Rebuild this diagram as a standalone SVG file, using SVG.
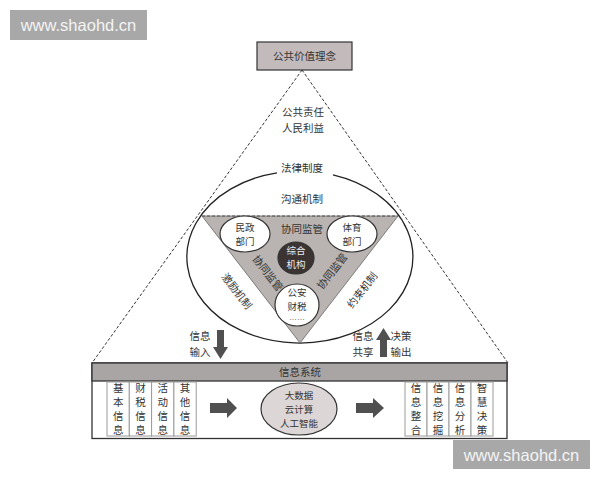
<svg xmlns="http://www.w3.org/2000/svg" width="600" height="480" viewBox="0 0 600 480">
<style>
.t{font-family:"Noto Sans CJK SC","Noto Sans",sans-serif;font-size:10.5px;fill:#333;text-anchor:middle;}
.s{font-family:"Noto Sans CJK SC","Noto Sans",sans-serif;font-size:9.5px;fill:#333;text-anchor:middle;}
.tw{font-family:"Noto Sans CJK SC","Noto Sans",sans-serif;font-size:9.5px;fill:#eee;text-anchor:middle;}
.v{font-family:"Noto Sans CJK SC","Noto Sans",sans-serif;font-size:10.5px;fill:#333;text-anchor:middle;writing-mode:vertical-rl;letter-spacing:3.5px;}
.wm{font-family:"Liberation Sans",Arial,sans-serif;font-size:16.5px;fill:#f4f4f4;text-anchor:middle;}
.dash{stroke:#333;stroke-width:1;stroke-dasharray:3,2;fill:none;}
.node{stroke:#333;stroke-width:1.2;}
.col{fill:#fff;stroke:#999;stroke-width:1;}
.dk{fill:#505050;}
</style>
<rect width="600" height="480" fill="#fff"/>

<g id="watermark1">
<rect x="10" y="10" width="137" height="30" fill="#a8a8a8"/>
<text class="wm" x="78.5" y="31">www.shaohd.cn</text>
</g>

<g id="connectors">
<line class="dash" x1="302" y1="70" x2="92" y2="363"/>
<line class="dash" x1="302" y1="70" x2="508" y2="363"/>
<line x1="296" y1="258" x2="248" y2="236" stroke="#555" stroke-width="3"/>
<line x1="296" y1="258" x2="350" y2="236" stroke="#555" stroke-width="3"/>
<line x1="296" y1="258" x2="297" y2="300" stroke="#555" stroke-width="3"/>
</g>

<g id="top-box">
<rect class="node" x="257" y="42" width="95" height="28" fill="#c3bbbb"/>
<text class="t" x="304.5" y="60">公共价值理念</text>
</g>

<g id="values">
<text class="t" x="303" y="116">公共责任</text>
<text class="t" x="303" y="132">人民利益</text>
</g>

<g id="law-ellipse">
<path d="M 277 172.8 A 113 86 0 1 0 333 174.8" fill="none" stroke="#222" stroke-width="1.3"/>
<text class="t" x="302" y="172">法律制度</text>
<text class="t" x="302" y="203">沟通机制</text>
<text class="t" transform="translate(237,291) rotate(52)" y="4">激励机制</text>
<text class="t" transform="translate(362,290) rotate(-52)" y="4">约束机制</text>
</g>

<g id="gray-triangle">
<polygon points="202,216 398,216 300,343" fill="#b9b4b1" stroke="#666" stroke-width="0.8"/>
<line x1="202" y1="216" x2="398" y2="216" stroke="#555" stroke-width="1" stroke-dasharray="3,2"/>
<text class="t" x="302" y="233">协同监管</text>
<text class="t" transform="translate(268,273) rotate(52)" y="4">协同监管</text>
<text class="t" transform="translate(332,271) rotate(-52)" y="4">协同监管</text>
</g>

<g id="minzheng">
<ellipse class="node" cx="245" cy="234" rx="25" ry="18" fill="#fff"/>
<text class="s" x="245" y="231">民政</text>
<text class="s" x="245" y="245">部门</text>
</g>

<g id="tiyu">
<ellipse class="node" cx="352" cy="234" rx="25" ry="18" fill="#fff"/>
<text class="s" x="352" y="231">体育</text>
<text class="s" x="352" y="245">部门</text>
</g>

<g id="zonghe">
<ellipse class="node" cx="296" cy="258" rx="18" ry="16" fill="#3b3433"/>
<text class="tw" x="296" y="254">综合</text>
<text class="tw" x="296" y="268">机构</text>
</g>

<g id="gongan">
<ellipse class="node" cx="297" cy="305" rx="22" ry="21" fill="#fff"/>
<text class="s" x="297" y="296">公安</text>
<text class="s" x="297" y="310">财税</text>
<text x="297" y="320" style="font-family:'Liberation Sans',sans-serif;font-size:8px;fill:#333;text-anchor:middle;">……</text>
</g>

<g id="arrow-in">
<text class="t" x="200" y="340">信息</text>
<text class="t" x="200" y="356">输入</text>
<rect class="dk" x="217" y="330" width="7" height="18"/>
<polygon class="dk" points="213,347 228,347 220.5,359"/>
</g>

<g id="arrow-out">
<text class="t" x="363" y="340">信息</text>
<text class="t" x="363" y="356">共享</text>
<rect class="dk" x="380" y="339" width="7" height="18"/>
<polygon class="dk" points="376,340 391,340 383.5,328"/>
<text class="t" x="401" y="340">决策</text>
<text class="t" x="401" y="356">输出</text>
</g>

<g id="info-system">
<rect x="92" y="363" width="415" height="75.5" fill="#fff" stroke="#333" stroke-width="1.3"/>
<rect x="92" y="363" width="415" height="18" fill="#aaa5a5" stroke="#333" stroke-width="1.3"/>
<text class="t" x="300" y="376">信息系统</text>
</g>

<g id="inputs">
<rect class="col" x="107" y="382" width="22.3" height="54"/>
<rect class="col" x="129.3" y="382" width="22.3" height="54"/>
<rect class="col" x="151.6" y="382" width="22.3" height="54"/>
<rect class="col" x="173.9" y="382" width="22.3" height="54"/>
<text class="v" x="118.2" y="411">基本信息</text>
<text class="v" x="140.5" y="411">财税信息</text>
<text class="v" x="162.8" y="411">活动信息</text>
<text class="v" x="185" y="411">其他信息</text>
</g>

<g id="arrow-a">
<polygon class="dk" points="210,403 227,403 227,398 237,408 227,418 227,413 210,413"/>
</g>

<g id="tech">
<ellipse class="node" cx="299" cy="409" rx="38" ry="26" fill="#ddd6d6"/>
<text class="s" x="299" y="399">大数据</text>
<text class="s" x="299" y="413">云计算</text>
<text class="s" x="299" y="427">人工智能</text>
</g>

<g id="arrow-b">
<polygon class="dk" points="356,403 373,403 373,398 384,408 373,418 373,413 356,413"/>
</g>

<g id="outputs">
<rect class="col" x="405" y="382" width="22" height="54"/>
<rect class="col" x="427" y="382" width="22" height="54"/>
<rect class="col" x="449" y="382" width="22" height="54"/>
<rect class="col" x="471" y="382" width="22" height="54"/>
<text class="v" x="416" y="411">信息整合</text>
<text class="v" x="438" y="411">信息挖掘</text>
<text class="v" x="460" y="411">信息分析</text>
<text class="v" x="482" y="411">智慧决策</text>
</g>

<g id="watermark2">
<rect x="453" y="440" width="137" height="29" fill="#a8a8a8"/>
<text class="wm" x="521.5" y="461">www.shaohd.cn</text>
</g>
</svg>
